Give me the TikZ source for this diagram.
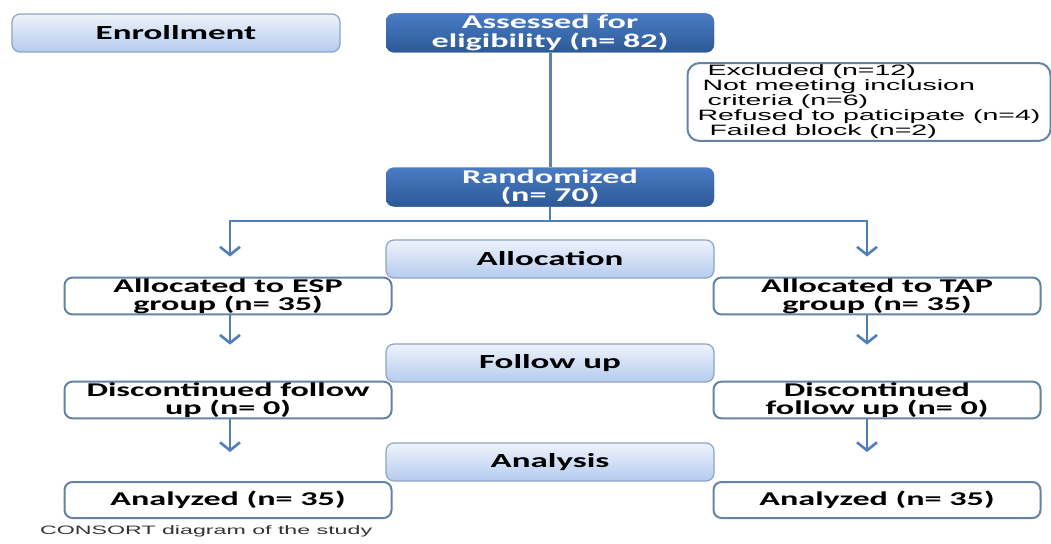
\documentclass[tikz,border=0pt]{standalone}
\usepackage{fontspec}
\setmainfont{Carlito}[FakeStretch=1.75]
\newfontfamily\arialfont{Liberation Sans}[FakeStretch=1.9]
\usetikzlibrary{arrows.meta}

\definecolor{stagetop}{HTML}{EEF3FB}
\definecolor{stagebot}{HTML}{B5CBEF}
\definecolor{stageedge}{HTML}{8FA3C2}
\definecolor{darktop}{HTML}{4A7CC4}
\definecolor{darkbot}{HTML}{2C5997}
\definecolor{groupedge}{HTML}{6483A8}
\definecolor{flowblue}{HTML}{4F7FBA}
\definecolor{trunkblue}{HTML}{6080AE}

\tikzset{stage/.style = {draw = stageedge, line width = 1.2pt, rounded corners = 8pt,
                         top color = stagetop, bottom color = stagebot,
                         minimum width = #1, minimum height = 38pt, inner sep = 1pt,
                         font = \fontsize{20}{18.5}\selectfont\bfseries},
         stage/.default = 328pt,
         dark/.style  = {fill = darkbot, top color = darktop, bottom color = darkbot,
                         rounded corners = 8pt, text = white, align = center,
                         minimum width = 328pt, minimum height = 39pt, inner sep = 1pt,
                         font = \fontsize{19.5}{18.5}\selectfont\bfseries},
         group/.style = {draw = groupedge, line width = 2pt, rounded corners = 8pt,
                         fill = white, align = center,
                         minimum width = 327pt, minimum height = 36pt, inner sep = 1pt,
                         font = \fontsize{19.5}{18}\selectfont\bfseries},
         excl/.style  = {draw = groupedge, line width = 2pt, rounded corners = 12pt,
                         align = left, minimum width = 358pt, minimum height = 72pt,
                         inner xsep = 10pt, inner ysep = 2pt,
                         font = \arialfont\fontsize{15}{11.6}\selectfont},
         note/.style  = {anchor = west, inner sep = 0pt, text = black!80,
                         font = \arialfont\fontsize{12.2}{13}\selectfont},
         flow/.style  = {draw = flowblue, line width = 2.6pt},
         trunk/.style = {draw = trunkblue, line width = 3pt},
         tip/.style   = {-{Straight Barb[length = 8pt, width = 20pt]}}
        }

\begin{document}
\begin{tikzpicture}[x = 1pt, y = -1pt]
  \useasboundingbox (0,0) rectangle (1051,543);

  \node[stage]  (enroll)   at (176,33)  {Enrollment};
  \node[dark]   (assess)   at (550,33)  {Assessed for\\eligibility (n= 82)};
  \node[excl]   (excluded) at (869,102) {\hspace*{10pt}Excluded (n=12)\\
                                          \hspace*{5pt}Not meeting inclusion\\
                                          \hspace*{10pt}criteria (n=6)\\
                                          Refused to paticipate (n=4)\\
                                          \hspace*{12pt}Failed block (n=2)};
  \node[dark]   (rand)     at (550,187) {Randomized\\(n= 70)};
  \node[stage]  (alloc)    at (550,259) {Allocation};
  \node[group]  (espgrp)   at (228,296) {Allocated to ESP\\group (n= 35)};
  \node[group]  (tapgrp)   at (877,296) {Allocated to TAP\\group (n= 35)};
  \node[stage]  (follow)   at (550,363) {Follow up};
  \node[group]  (espdisc)  at (228,400) {Discontinued follow\\up (n= 0)};
  \node[group]  (tapdisc)  at (877,400) {Discontinued\\follow up (n= 0)};
  \node[stage]  (analysis) at (550,462) {Analysis};
  \node[group]  (espana)   at (228,500) {Analyzed (n= 35)};
  \node[group]  (tapana)   at (877,500) {Analyzed (n= 35)};
  \node[note]   (caption)  at (40,531)  {CONSORT diagram of the study};

  \draw[trunk] (assess) -- (rand);
  \coordinate (split) at (550,221);
  \draw[flow] (rand) -- (split);
  \draw[flow, tip, shorten >= 20pt] (split) -| ([xshift = 2pt]espgrp.north);
  \draw[flow, tip, shorten >= 20pt] (split) -| ([xshift = -10pt]tapgrp.north);
  \draw[flow, tip, shorten >= 36pt] ([xshift = 2pt]espgrp.south) -- ([xshift = 2pt]espdisc.north);
  \draw[flow, tip, shorten >= 36pt] ([xshift = -10pt]tapgrp.south) -- ([xshift = -10pt]tapdisc.north);
  \draw[flow, tip, shorten >= 29pt] ([xshift = 2pt]espdisc.south) -- ([xshift = 2pt]espana.north);
  \draw[flow, tip, shorten >= 29pt] ([xshift = -10pt]tapdisc.south) -- ([xshift = -10pt]tapana.north);
\end{tikzpicture}
\end{document}
